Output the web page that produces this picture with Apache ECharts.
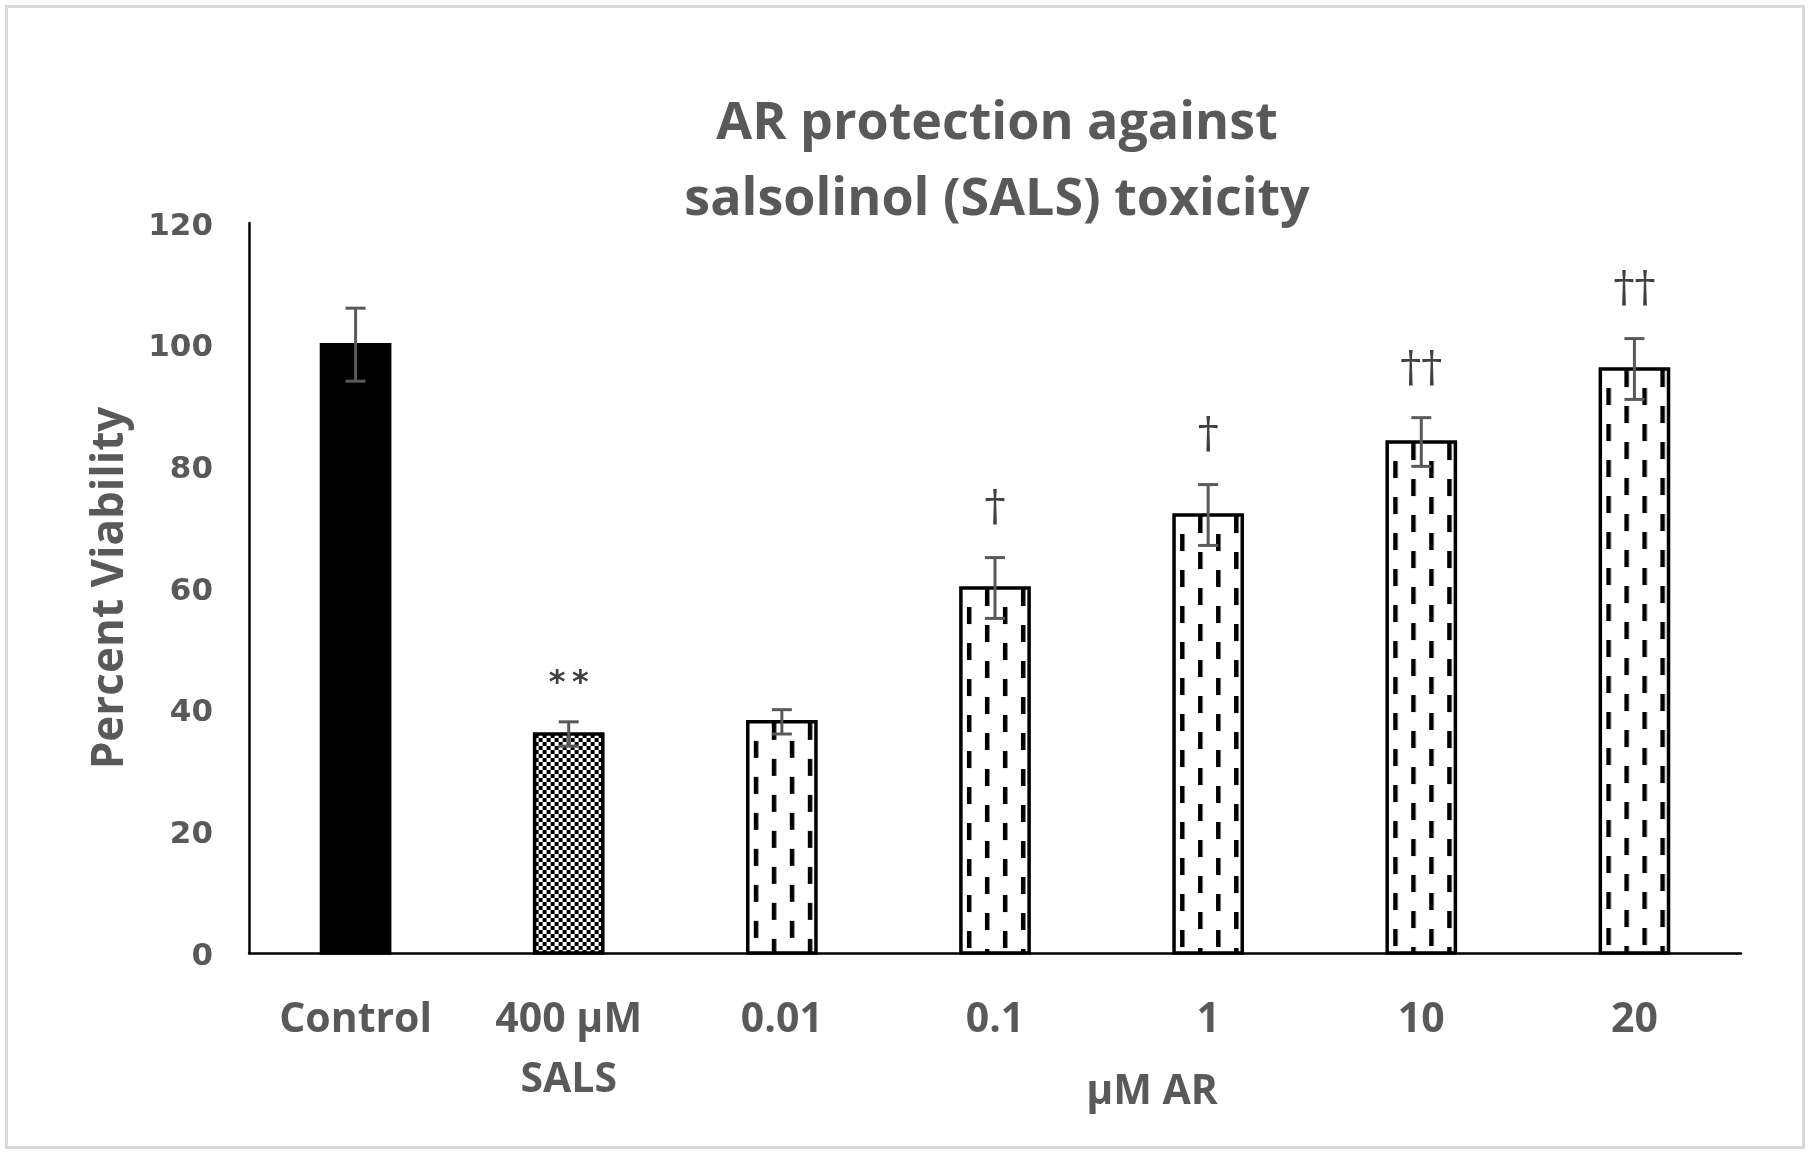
<!DOCTYPE html>
<html>
<head>
<meta charset="utf-8">
<script src="https://cdn.jsdelivr.net/npm/echarts@6/dist/echarts.min.js"></script>
<style>
html,body{margin:0;padding:0;background:#fff;}
#chart{width:1810px;height:1154px;}
</style>
</head>
<body>
<div id="chart"></div>
<script>
// ---- data ----
var categories = ['Control', '400 μM\nSALS', '0.01', '0.1', '1', '10', '20'];
var viability = [100, 36, 38, 60, 72, 84, 96];
var errorSD = [6, 2, 2, 5, 5, 4, 5];
var significance = ['', '**', '', '†', '†', '††', '††'];
var yMin = 0, yMax = 120, yInterval = 20;
var titleLines = ['AR protection against', 'salsolinol (SALS) toxicity'];
var yAxisTitle = 'Percent Viability';
var xGroupTitle = 'μM AR';

// ---- patterns ----
function makeDashPattern() {
  var c = document.createElement('canvas');
  c.width = 36; c.height = 36;
  var g = c.getContext('2d');
  g.fillStyle = '#fff'; g.fillRect(0, 0, 36, 36);
  g.fillStyle = '#000';
  g.fillRect(0, 0, 4.5, 17);
  g.fillRect(18, 18, 4.5, 17);
  return c;
}
function makeCheckerPattern() {
  var c = document.createElement('canvas');
  c.width = 8; c.height = 8;
  var g = c.getContext('2d');
  g.fillStyle = '#fff'; g.fillRect(0, 0, 8, 8);
  g.fillStyle = '#000';
  g.fillRect(0, 0, 4, 4);
  g.fillRect(4, 4, 4, 4);
  return c;
}
var dashImg = makeDashPattern();
var checkerImg = makeCheckerPattern();

var txtColor = '#595959';
var font = '"Open Sans", "Noto Sans", sans-serif';

var chart = echarts.init(document.getElementById('chart'));

var option = {
  backgroundColor: '#fff',
  animation: false,
  grid: { left: 249, right: 69, top: 223, bottom: 201 },
  xAxis: {
    type: 'category',
    data: categories,
    axisLine: { lineStyle: { color: '#000', width: 2.5 } },
    axisTick: { show: false },
    axisLabel: {
      color: txtColor, fontFamily: font, fontWeight: 'bold', fontSize: 41,
      lineHeight: 60, margin: 37, interval: 0
    }
  },
  yAxis: {
    type: 'value',
    min: yMin, max: yMax, interval: yInterval,
    name: yAxisTitle,
    nameLocation: 'middle',
    nameGap: 117,
    nameRotate: 90,
    nameTextStyle: { color: txtColor, fontFamily: font, fontWeight: 'bold', fontSize: 44 },
    axisLine: { show: true, lineStyle: { color: '#000', width: 2.5 } },
    axisTick: { show: false },
    splitLine: { show: false },
    axisLabel: {
      margin: 36,
      formatter: function (v) { return '{t|' + v + '}'; },
      rich: {
        t: {
          color: txtColor, fontFamily: '"DejaVu Sans", sans-serif', fontWeight: 'bold',
          fontSize: 31, padding: [7, 0, 0, 0]
        }
      }
    }
  },
  graphic: [
    { type: 'rect', shape: { x: 6.5, y: 6.5, width: 1797, height: 1141 },
      style: { fill: 'none', stroke: '#d9d9d9', lineWidth: 3 }, silent: true },
    { type: 'text', x: 997, y: 124.5, style: { text: titleLines[0], fill: txtColor,
      font: 'bold 52px ' + font, textAlign: 'center', textVerticalAlign: 'middle' } },
    { type: 'text', x: 997, y: 200.5, style: { text: titleLines[1], fill: txtColor,
      font: 'bold 52px ' + font, textAlign: 'center', textVerticalAlign: 'middle' } },
    { type: 'text', x: 1152, y: 1092, style: { text: xGroupTitle, fill: txtColor,
      font: 'bold 41px ' + font, textAlign: 'center', textVerticalAlign: 'middle' } }
  ],
  series: [
    {
      type: 'custom',
      name: 'bars',
      data: viability.map(function (v, i) { return [i, v]; }),
      encode: { x: 0, y: 1 },
      renderItem: function (params, api) {
        var idx = api.value(0);
        var top = api.coord([idx, api.value(1)]);
        var base = api.coord([idx, 0]);
        var bw = api.size([1, 0])[0] * 0.32;
        var x = top[0] - bw / 2;
        var fill;
        if (idx === 0) fill = '#000';
        else if (idx === 1) fill = { image: checkerImg, repeat: 'repeat', x: x, y: top[1] };
        else fill = { image: dashImg, repeat: 'repeat', x: x + 6, y: top[1] + 19 };
        return {
          type: 'rect',
          shape: { x: x, y: top[1], width: bw, height: base[1] - top[1] },
          style: { fill: fill, stroke: '#000', lineWidth: 3.5 }
        };
      },
      z: 2
    },
    {
      type: 'custom',
      name: 'errors',
      data: viability.map(function (v, i) { return [i, v - errorSD[i], v + errorSD[i]]; }),
      encode: { x: 0, y: [1, 2] },
      renderItem: function (params, api) {
        var idx = api.value(0);
        var lo = api.coord([idx, api.value(1)]);
        var hi = api.coord([idx, api.value(2)]);
        var hw = 10;
        var st = { stroke: '#595959', lineWidth: 3 };
        return {
          type: 'group',
          children: [
            { type: 'line', shape: { x1: lo[0], y1: lo[1], x2: hi[0], y2: hi[1] }, style: st },
            { type: 'line', shape: { x1: hi[0] - hw, y1: hi[1], x2: hi[0] + hw, y2: hi[1] }, style: st },
            { type: 'line', shape: { x1: lo[0] - hw, y1: lo[1], x2: lo[0] + hw, y2: lo[1] }, style: st }
          ]
        };
      },
      z: 3
    },
    {
      type: 'custom',
      name: 'significance',
      data: viability.map(function (v, i) { return [i, v + errorSD[i]]; }),
      encode: { x: 0, y: 1 },
      renderItem: function (params, api) {
        var idx = api.value(0);
        var label = significance[idx];
        if (!label) return null;
        var p = api.coord([idx, api.value(1)]);
        var isStar = label.charAt(0) === '*';
        return {
          type: 'text',
          x: p[0], y: p[1] - (isStar ? 38 : 48),
          style: {
            text: isStar ? label.split('').join('\u2009') : label, fill: '#404040',
            font: isStar ? 'bold 32px "DejaVu Sans", sans-serif' : '42px "DejaVu Serif", serif',
            textAlign: 'center', textVerticalAlign: 'middle'
          }
        };
      },
      z: 4
    }
  ]
};
chart.setOption(option);
</script>
</body>
</html>
